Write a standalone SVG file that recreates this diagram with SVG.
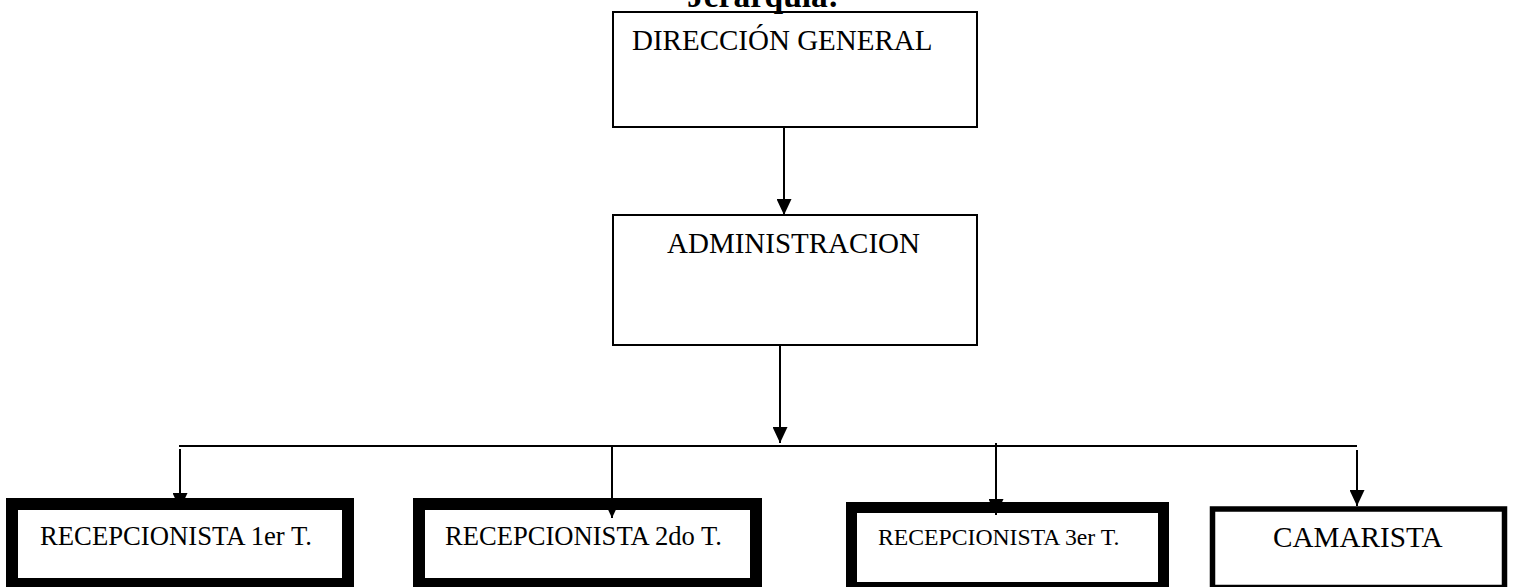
<svg xmlns="http://www.w3.org/2000/svg" width="1513" height="587" viewBox="0 0 1513 587">
  <style>
    .lbl { font-family: "Liberation Serif", "Times New Roman", serif; fill: #000; }
    .box { fill: none; stroke: #000; }
    .wire { fill: none; stroke: #000; stroke-width: 2; }
  </style>
  <defs>
    <marker id="arrow" viewBox="0 0 16 15" refX="16" refY="7.5" markerWidth="16" markerHeight="15" markerUnits="userSpaceOnUse" orient="auto">
      <path d="M0,0 L16,7.5 L0,15 Z" fill="#000"/>
    </marker>
  </defs>

  <rect x="0" y="0" width="1513" height="587" fill="#fff"/>

  <!-- heading, clipped by the top edge -->
  <text class="lbl" x="687" y="7" font-size="33.5" font-weight="bold">Jerarquía:</text>

  <!-- connectors -->
  <g id="connectors">
    <line class="wire" x1="784" y1="127" x2="784" y2="215" marker-end="url(#arrow)"/>
    <line class="wire" x1="780" y1="345" x2="780" y2="443" marker-end="url(#arrow)"/>
    <line class="wire" x1="179" y1="446" x2="1357" y2="446"/>
    <line class="wire" x1="180" y1="449" x2="180" y2="509" marker-end="url(#arrow)"/>
    <line class="wire" x1="612" y1="446" x2="612" y2="518" marker-end="url(#arrow)"/>
    <line class="wire" x1="996" y1="443" x2="996" y2="515" marker-end="url(#arrow)"/>
    <line class="wire" x1="1357" y1="450" x2="1357" y2="506" marker-end="url(#arrow)"/>
  </g>

  <!-- nodes -->
  <g id="direccion-general">
    <rect class="box" x="613" y="12" width="364" height="115" stroke-width="2"/>
    <text class="lbl" x="632" y="50" font-size="29">DIRECCIÓN GENERAL</text>
  </g>
  <g id="administracion">
    <rect class="box" x="613" y="215" width="364" height="130" stroke-width="2"/>
    <text class="lbl" x="667" y="253" font-size="29">ADMINISTRACION</text>
  </g>
  <g id="recepcionista-1">
    <rect class="box" x="12" y="504" width="336" height="80" stroke-width="12"/>
    <text class="lbl" x="40" y="545" font-size="26.7">RECEPCIONISTA 1er T.</text>
  </g>
  <g id="recepcionista-2">
    <rect class="box" x="419" y="504" width="337" height="80" stroke-width="12"/>
    <text class="lbl" x="445" y="545" font-size="26.6">RECEPCIONISTA 2do T.</text>
  </g>
  <g id="recepcionista-3">
    <rect class="box" x="851.5" y="507.5" width="312" height="80" stroke-width="11"/>
    <text class="lbl" x="878" y="545" font-size="23.7">RECEPCIONISTA 3er T.</text>
  </g>
  <g id="camarista">
    <rect class="box" x="1212.5" y="509" width="292" height="78.5" stroke-width="5.5"/>
    <text class="lbl" x="1273" y="547" font-size="29.2">CAMARISTA</text>
  </g>
</svg>
